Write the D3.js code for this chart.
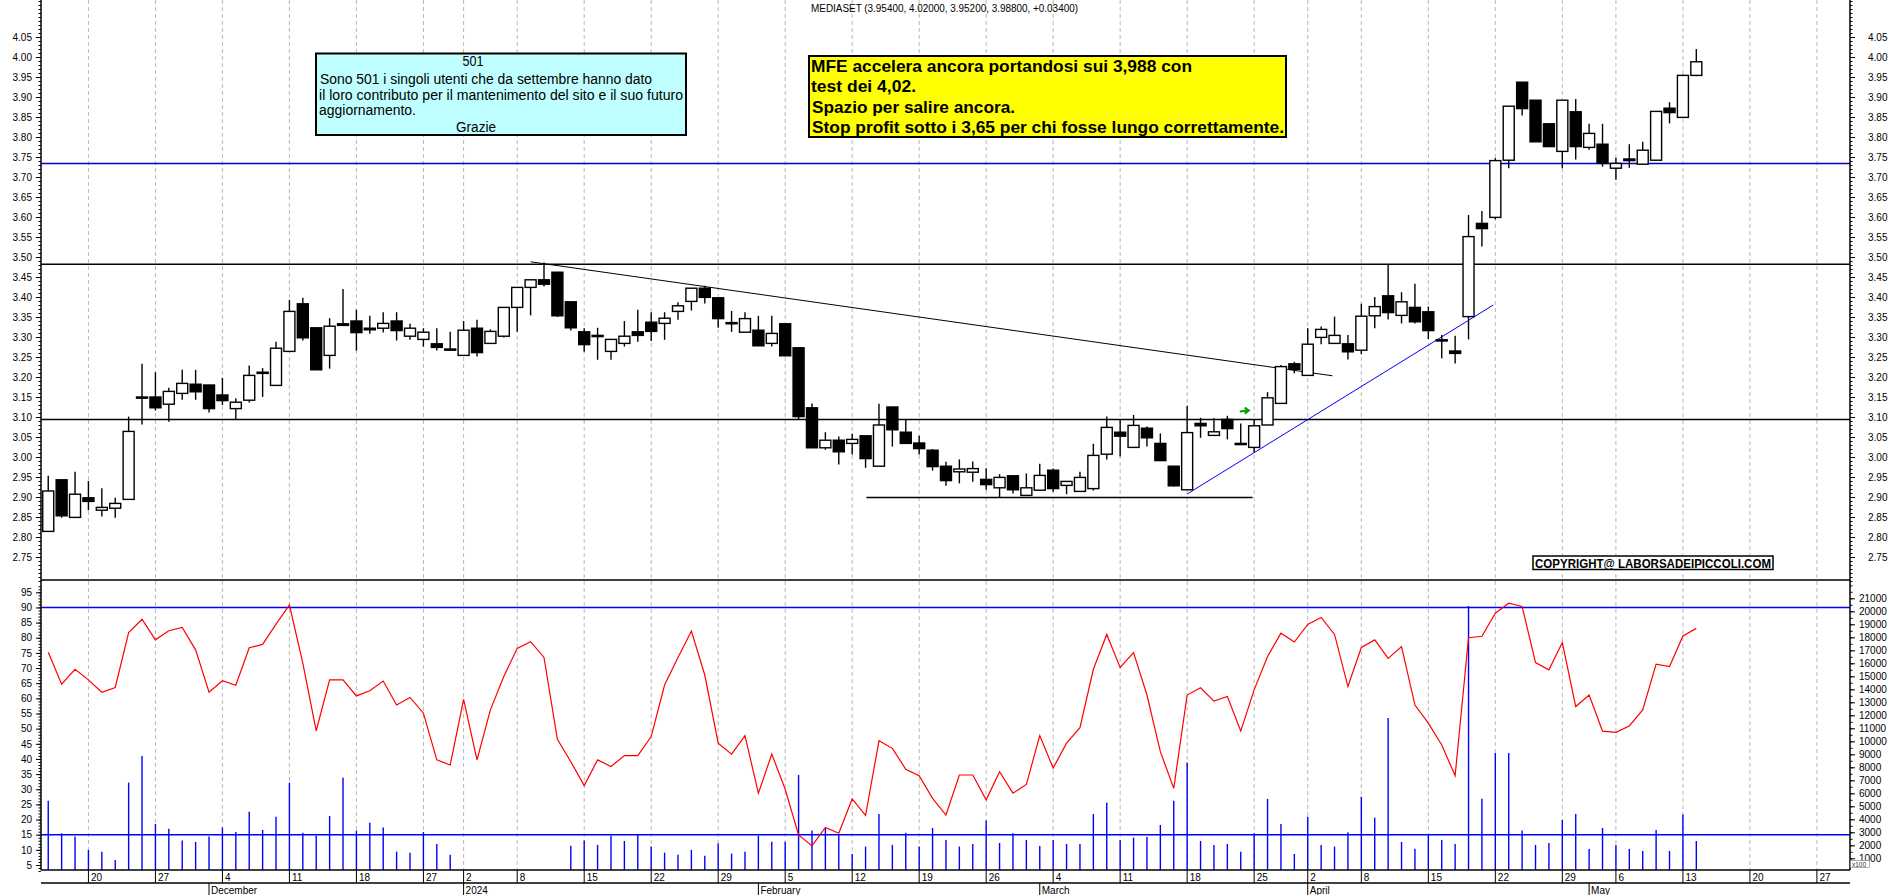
<!DOCTYPE html>
<html>
<head>
<meta charset="utf-8">
<script src="https://cdn.jsdelivr.net/npm/d3@7"></script>
<style>
  body { margin: 0; background: #fff; }
  svg { display: block; }
  text { font-family: "Liberation Sans", Arial, sans-serif; }
</style>
</head>
<body>
<svg id="chart" width="1890" height="895"></svg>
<script>
// daily candles from 15 Nov 2023 to 14 May 2024 (trading-day index = position)
const opens = [2.814,2.943,2.849,2.898,2.867,2.872,2.894,3.150,3.150,3.132,3.159,3.182,3.180,3.155,3.121,3.142,3.212,3.179,3.264,3.383,
  3.323,3.254,3.333,3.340,3.322,3.322,3.340,3.302,3.294,3.283,3.270,3.254,3.322,3.284,3.302,3.374,3.424,3.443,3.462,3.388,
  3.313,3.304,3.264,3.284,3.313,3.337,3.334,3.364,3.389,3.422,3.398,3.336,3.312,3.317,3.284,3.333,3.273,3.123,3.023,3.042,
  3.034,3.053,2.977,3.125,3.062,3.035,3.017,2.977,2.963,2.962,2.944,2.923,2.953,2.904,2.917,2.967,2.929,2.914,2.921,3.007,
  3.062,3.024,3.072,3.034,2.977,2.918,3.084,3.054,3.094,3.034,3.024,3.080,3.134,3.233,3.204,3.299,3.284,3.283,3.267,3.353,
  3.403,3.354,3.374,3.363,3.293,3.265,3.351,3.584,3.599,3.742,3.937,3.892,3.833,3.764,3.863,3.774,3.782,3.722,3.745,3.732,
  3.742,3.872,3.849,3.954];
const highs = [2.953,2.943,2.963,2.940,2.922,2.898,3.101,3.233,3.212,3.173,3.218,3.218,3.180,3.198,3.147,3.229,3.222,3.288,3.393,3.398,
  3.323,3.347,3.420,3.368,3.353,3.362,3.362,3.333,3.322,3.322,3.313,3.340,3.343,3.319,3.374,3.424,3.443,3.486,3.462,3.388,
  3.322,3.323,3.294,3.340,3.368,3.362,3.362,3.387,3.422,3.428,3.398,3.365,3.362,3.353,3.353,3.333,3.273,3.134,3.062,3.051,
  3.058,3.053,3.133,3.125,3.093,3.053,3.020,2.988,2.994,2.989,2.972,2.957,2.953,2.959,2.983,2.971,2.939,2.963,3.033,3.101,
  3.093,3.105,3.076,3.059,2.977,3.128,3.098,3.097,3.103,3.084,3.094,3.162,3.230,3.238,3.322,3.326,3.351,3.305,3.383,3.400,
  3.480,3.412,3.433,3.376,3.305,3.303,3.605,3.615,3.747,3.877,3.937,3.892,3.833,3.892,3.895,3.833,3.833,3.748,3.782,3.788,
  3.864,3.887,3.956,4.020];
const lows = [2.814,2.848,2.849,2.867,2.851,2.848,2.894,3.081,3.116,3.088,3.143,3.143,3.111,3.130,3.094,3.136,3.150,3.179,3.264,3.291,
  3.218,3.221,3.329,3.266,3.308,3.311,3.291,3.293,3.276,3.266,3.267,3.254,3.251,3.284,3.299,3.313,3.354,3.426,3.350,3.316,
  3.263,3.243,3.243,3.276,3.288,3.290,3.293,3.343,3.366,3.384,3.323,3.313,3.312,3.278,3.276,3.253,3.095,3.023,3.018,2.981,
  3.006,2.973,2.977,3.026,3.034,3.006,2.966,2.928,2.934,2.938,2.918,2.900,2.909,2.904,2.917,2.913,2.907,2.914,2.916,2.994,
  3.001,3.024,3.026,2.991,2.926,2.918,3.048,3.054,3.044,3.034,3.011,3.080,3.134,3.209,3.204,3.282,3.284,3.244,3.257,3.322,
  3.344,3.334,3.334,3.295,3.247,3.234,3.294,3.526,3.594,3.722,3.854,3.788,3.776,3.722,3.744,3.768,3.726,3.693,3.723,3.732,
  3.742,3.834,3.849,3.952];
const closes = [2.915,2.853,2.907,2.889,2.874,2.884,3.064,3.150,3.123,3.164,3.184,3.163,3.121,3.141,3.137,3.204,3.212,3.272,3.364,3.298,
  3.218,3.327,3.329,3.311,3.318,3.334,3.316,3.322,3.312,3.274,3.267,3.317,3.261,3.314,3.374,3.424,3.443,3.432,3.353,3.323,
  3.281,3.304,3.294,3.302,3.304,3.314,3.347,3.378,3.422,3.399,3.346,3.336,3.346,3.278,3.309,3.253,3.101,3.023,3.042,3.013,
  3.044,2.996,3.080,3.068,3.034,3.021,2.976,2.941,2.970,2.971,2.931,2.949,2.918,2.923,2.954,2.921,2.939,2.949,3.004,3.074,
  3.052,3.079,3.048,2.991,2.928,3.061,3.078,3.063,3.071,3.034,3.078,3.148,3.226,3.219,3.282,3.319,3.304,3.263,3.352,3.376,
  3.361,3.388,3.338,3.316,3.293,3.259,3.551,3.571,3.741,3.877,3.871,3.788,3.776,3.892,3.776,3.809,3.734,3.734,3.741,3.767,
  3.864,3.861,3.954,3.988];
// volume in axis units (x100); null = no bar drawn
const volumes = [5430,2920,2670,1640,1510,870,6820,8870,3640,3280,2360,2260,2670,3360,3020,4590,3180,4200,6820,2970,
  2740,4250,7200,3130,3740,3360,1510,1430,3020,2100,1280,null,null,null,null,null,null,null,null,1970,
  2360,2030,2740,2330,2870,1900,1430,1280,1640,1200,2130,1360,1510,2740,2280,2280,7410,3130,3310,2850,
  1330,1900,4410,2030,2970,1900,3330,2410,1900,2100,3900,2180,2920,2410,1950,2410,2100,2100,4410,5280,
  2410,2590,2640,3560,5430,8360,2330,2030,2100,1510,2920,5560,3640,1330,4200,2030,1900,3000,5740,4110,
  11800,2260,1740,2870,2410,2100,20400,5590,9100,9100,3130,2030,2180,3950,4410,1720,3330,2030,1720,1560,
  3180,1560,4360,2330];
const rsi = [75.2,64.7,69.6,66.1,62.0,63.6,81.7,86.1,79.3,82.3,83.4,76.0,62.0,65.8,64.3,76.7,77.8,84.5,90.8,71.6,
  49.3,66.1,66.1,60.8,62.5,65.7,57.8,60.3,55.1,39.7,38.0,59.7,39.7,56.2,67.2,76.5,78.7,73.5,46.5,39.1,
  31.2,39.7,37.5,41.1,41.1,47.4,64.4,73.5,82.2,67.7,45.2,41.6,47.7,28.7,41.6,30.0,14.9,11.3,17.4,15.5,
  26.8,21.4,46.0,43.5,36.6,34.5,27.0,21.5,34.7,34.7,26.5,35.8,28.7,31.6,47.7,37.0,45.2,50.3,69.6,81.1,
  70.2,75.1,61.1,42.4,30.3,61.1,63.5,59.1,60.6,49.2,62.8,73.8,81.5,78.6,84.4,86.7,81.1,63.9,76.8,79.3,
  73.2,77.1,57.8,51.8,44.6,34.5,80.0,80.5,88.1,91.4,90.3,71.8,69.4,78.4,57.3,61.1,49.2,48.8,50.9,56.2,
  71.3,70.5,80.6,83.1];

// price levels and drawn trend lines ([day index, price])
const levelPrices = [3.734, 3.482, 3.094];
const levelColors = ["#0000cc", "#000", "#000"];
const downTrend = [[36, 3.488], [95.85, 3.203]];
const supportLine = [[61.06, 2.899], [89.88, 2.899]];
const upTrend = [[85, 2.9075], [107.85, 3.38]];
const arrowAt = [89.3, 3.116];
const rsiLevels = [90, 15];

const priceTicks = d3.range(2.75, 4.051, 0.05);
const rsiTicks = d3.range(5, 96, 5);
const volTicks = d3.range(1000, 21001, 1000);

const holidays = ["2023-12-25", "2023-12-26", "2024-01-01", "2024-03-29", "2024-04-01", "2024-05-01"];
const ymd = d3.timeFormat("%Y-%m-%d");
const days = d3.timeDays(new Date(2023, 10, 15), new Date(2024, 5, 1))
  .filter(d => d.getDay() % 6 !== 0 && !holidays.includes(ymd(d)));

const weekIdx = [], monthIdx = [];
days.forEach((d, i) => {
  if (i === 0) return;
  if (+d3.timeMonday.floor(d) !== +d3.timeMonday.floor(days[i - 1])) weekIdx.push(i);
  if (d.getMonth() !== days[i - 1].getMonth()) monthIdx.push(i);
});

const L = 41, R = 1850, MB = 580, LB = 870, AX = 883, H = 895;
const svg = d3.select("#chart");

const x = d3.scaleLinear().domain([-0.54, 134.47]).range([L, R]);
const yP = d3.scaleLinear().domain([2.75, 4.05]).range([557, 37]);
const yR = d3.scaleLinear().domain([5, 95]).range([865, 592.3]);
const yV = d3.scaleLinear().domain([1000, 21000]).range([858.3, 598.3]);

const defs = svg.append("defs");
defs.append("clipPath").attr("id", "cMain").append("rect")
  .attr("x", L).attr("y", 0).attr("width", R - L).attr("height", MB);
defs.append("clipPath").attr("id", "cLow").append("rect")
  .attr("x", L).attr("y", MB).attr("width", R - L).attr("height", LB - MB);

// vertical dashed week grid
svg.append("g").selectAll("line").data(weekIdx).enter().append("line")
  .attr("x1", d => x(d)).attr("x2", d => x(d))
  .attr("y1", 0).attr("y2", LB)
  .attr("stroke", "#b8b8b8").attr("stroke-dasharray", "4,3");

// ---- price panel
const main = svg.append("g").attr("clip-path", "url(#cMain)");

main.selectAll(".lvl").data(levelPrices).enter().append("line")
  .attr("x1", L).attr("x2", R)
  .attr("y1", d => yP(d)).attr("y2", d => yP(d))
  .attr("stroke", (d, i) => levelColors[i]).attr("stroke-width", 1.5);

const seg = d3.line().x(d => x(d[0])).y(d => yP(d[1]));
main.append("path").attr("d", seg(downTrend)).attr("stroke", "#000").attr("fill", "none");
main.append("path").attr("d", seg(supportLine)).attr("stroke", "#000").attr("stroke-width", 1.5).attr("fill", "none");
main.append("path").attr("d", seg(upTrend)).attr("stroke", "#0000ff").attr("fill", "none");

const idx = d3.range(closes.length);
main.selectAll(".wick").data(idx).enter().append("line")
  .attr("x1", i => x(i)).attr("x2", i => x(i))
  .attr("y1", i => yP(highs[i])).attr("y2", i => yP(lows[i]))
  .attr("stroke", "#000").attr("stroke-width", 1.4);

main.selectAll(".body").data(idx).enter().append("rect")
  .attr("x", i => x(i) - 5.5).attr("width", 11)
  .attr("y", i => yP(Math.max(opens[i], closes[i])))
  .attr("height", i => Math.max(1.2, Math.abs(yP(opens[i]) - yP(closes[i]))))
  .attr("fill", i => closes[i] >= opens[i] && opens[i] !== closes[i] ? "#fff" : "#000")
  .attr("stroke", "#000").attr("stroke-width", 1.4);

// small green arrow
const ax0 = x(arrowAt[0]), ay0 = yP(arrowAt[1]);
main.append("path")
  .attr("d", `M${ax0 - 5},${ay0 + 1} L${ax0 + 3},${ay0} M${ax0},${ay0 - 3} L${ax0 + 4},${ay0} L${ax0},${ay0 + 3}`)
  .attr("stroke", "#00a000").attr("stroke-width", 2).attr("fill", "none");

// ---- lower panel: oscillator + volume
const low = svg.append("g").attr("clip-path", "url(#cLow)");
low.selectAll(".vol").data(idx.filter(i => volumes[i] != null)).enter().append("line")
  .attr("x1", i => x(i)).attr("x2", i => x(i))
  .attr("y1", LB).attr("y2", i => yV(volumes[i]))
  .attr("stroke", "#0000ff").attr("stroke-width", 1.4);

low.selectAll(".rl").data(rsiLevels).enter().append("line")
  .attr("x1", L).attr("x2", R)
  .attr("y1", d => yR(d)).attr("y2", d => yR(d))
  .attr("stroke", "#0000ff").attr("stroke-width", 1.6);

low.append("path")
  .attr("d", d3.line().x(i => x(i)).y(i => yR(rsi[i]))(idx))
  .attr("stroke", "#ff0000").attr("stroke-width", 1.2).attr("fill", "none");

// ---- frame
const frame = [[L, 0, L, LB], [R, 0, R, LB], [L, MB, R, MB], [L, LB, R, LB], [L, AX, R, AX]];
svg.append("g").selectAll("line").data(frame).enter().append("line")
  .attr("x1", d => d[0]).attr("y1", d => d[1]).attr("x2", d => d[2]).attr("y2", d => d[3])
  .attr("stroke", "#000").attr("stroke-width", 1.5);

// ---- axes
function styleAxis(g) {
  g.select(".domain").remove();
  g.attr("font-family", "Liberation Sans, Arial, sans-serif").attr("font-size", 10);
  g.selectAll("text").attr("fill", "#000");
}
function minor(axisFn, scale, values, pos) {
  svg.append("g").attr("transform", pos)
    .call(axisFn(scale).tickValues(values).tickSize(2.5).tickFormat(""))
    .call(g => g.select(".domain").remove());
}
const minorPrice = d3.range(2.69, 4.145, 0.01);
minor(d3.axisLeft, yP, minorPrice, `translate(${L},0)`);
minor(d3.axisRight, yP, minorPrice, `translate(${R},0)`);
minor(d3.axisLeft, yR, d3.range(3, 98, 1), `translate(${L},0)`);
minor(d3.axisRight, yV, d3.range(500, 22001, 500), `translate(${R},0)`);

svg.append("g").attr("transform", `translate(${L},0)`)
  .call(d3.axisLeft(yP).tickValues(priceTicks).tickSize(5).tickPadding(4).tickFormat(d3.format(".2f")))
  .call(styleAxis);
svg.append("g").attr("transform", `translate(${R},0)`)
  .call(d3.axisRight(yP).tickValues(priceTicks).tickSize(5).tickPadding(13).tickFormat(d3.format(".2f")))
  .call(styleAxis);
svg.append("g").attr("transform", `translate(${L},0)`)
  .call(d3.axisLeft(yR).tickValues(rsiTicks).tickSize(5).tickPadding(4))
  .call(styleAxis);
svg.append("g").attr("transform", `translate(${R},0)`)
  .call(d3.axisRight(yV).tickValues(volTicks).tickSize(5).tickPadding(4).tickFormat(d3.format("d")))
  .call(styleAxis);

// x100 marker
svg.append("rect").attr("x", R + 0.5).attr("y", 860.5).attr("width", 19).attr("height", 7)
  .attr("fill", "#fff").attr("stroke", "#777").attr("stroke-width", 0.6);
svg.append("text").attr("x", R + 2).attr("y", 866.5).attr("font-size", 6.5).attr("fill", "#333").text("x100");

// date axis
const dayFmt = d3.timeFormat("%-d"), monFmt = d3.timeFormat("%B");
const wk = svg.append("g");
wk.selectAll("line").data(weekIdx).enter().append("line")
  .attr("x1", d => x(d)).attr("x2", d => x(d)).attr("y1", LB).attr("y2", AX)
  .attr("stroke", "#000");
wk.selectAll("text").data(weekIdx).enter().append("text")
  .attr("x", d => x(d) + 2.5).attr("y", 880.5).attr("font-size", 10)
  .text(d => dayFmt(days[d]));
const mo = svg.append("g");
mo.selectAll("line").data(monthIdx).enter().append("line")
  .attr("x1", d => x(d)).attr("x2", d => x(d)).attr("y1", AX).attr("y2", H)
  .attr("stroke", "#000");
mo.selectAll("text").data(monthIdx).enter().append("text")
  .attr("x", d => x(d) + 2).attr("y", 894).attr("font-size", 10)
  .text(d => days[d].getMonth() === 0 ? days[d].getFullYear() : monFmt(days[d]));

// ---- annotations
svg.append("text").attr("x", 811).attr("y", 12).attr("font-size", 10)
  .attr("textLength", 267).attr("lengthAdjust", "spacingAndGlyphs")
  .text("MEDIASET (3.95400, 4.02000, 3.95200, 3.98800, +0.03400)");

function noteBox(box, lines, opts) {
  svg.append("rect").attr("x", box[0]).attr("y", box[1]).attr("width", box[2]).attr("height", box[3])
    .attr("fill", opts.fill).attr("stroke", "#000").attr("stroke-width", opts.sw);
  lines.forEach(l => {
    const t = svg.append("text").attr("x", l.x).attr("y", l.y)
      .attr("font-size", opts.size).attr("font-weight", opts.weight)
      .attr("text-anchor", l.mid ? "middle" : "start").text(l.t);
    if (l.len) t.attr("textLength", l.len).attr("lengthAdjust", "spacingAndGlyphs");
  });
}

noteBox([316, 53.5, 370, 81.5], [
  { t: "501", x: 473, y: 66, len: 21, mid: true },
  { t: "Sono 501 i singoli utenti che da settembre hanno dato", x: 320, y: 84, len: 332 },
  { t: "il loro contributo per il mantenimento del sito e il suo futuro", x: 319, y: 100, len: 364 },
  { t: "aggiornamento.", x: 319, y: 115, len: 97 },
  { t: "Grazie", x: 476, y: 132, len: 40, mid: true }
], { fill: "#c0ffff", sw: 2, size: 14, weight: "normal" });

noteBox([809, 56, 477, 81], [
  { t: "MFE accelera ancora portandosi sui 3,988 con", x: 811, y: 72, len: 381 },
  { t: "test dei 4,02.", x: 811, y: 92, len: 105 },
  { t: "Spazio per salire ancora.", x: 812, y: 113, len: 203 },
  { t: "Stop profit sotto i 3,65 per chi fosse lungo correttamente.", x: 812, y: 133, len: 472 }
], { fill: "#ffff00", sw: 2, size: 17, weight: "bold" });

noteBox([1533, 556, 240, 13.5], [
  { t: "COPYRIGHT@ LABORSADEIPICCOLI.COM", x: 1535, y: 567.5, len: 236 }
], { fill: "#fff", sw: 1.5, size: 12, weight: "bold" });
</script>
</body>
</html>
